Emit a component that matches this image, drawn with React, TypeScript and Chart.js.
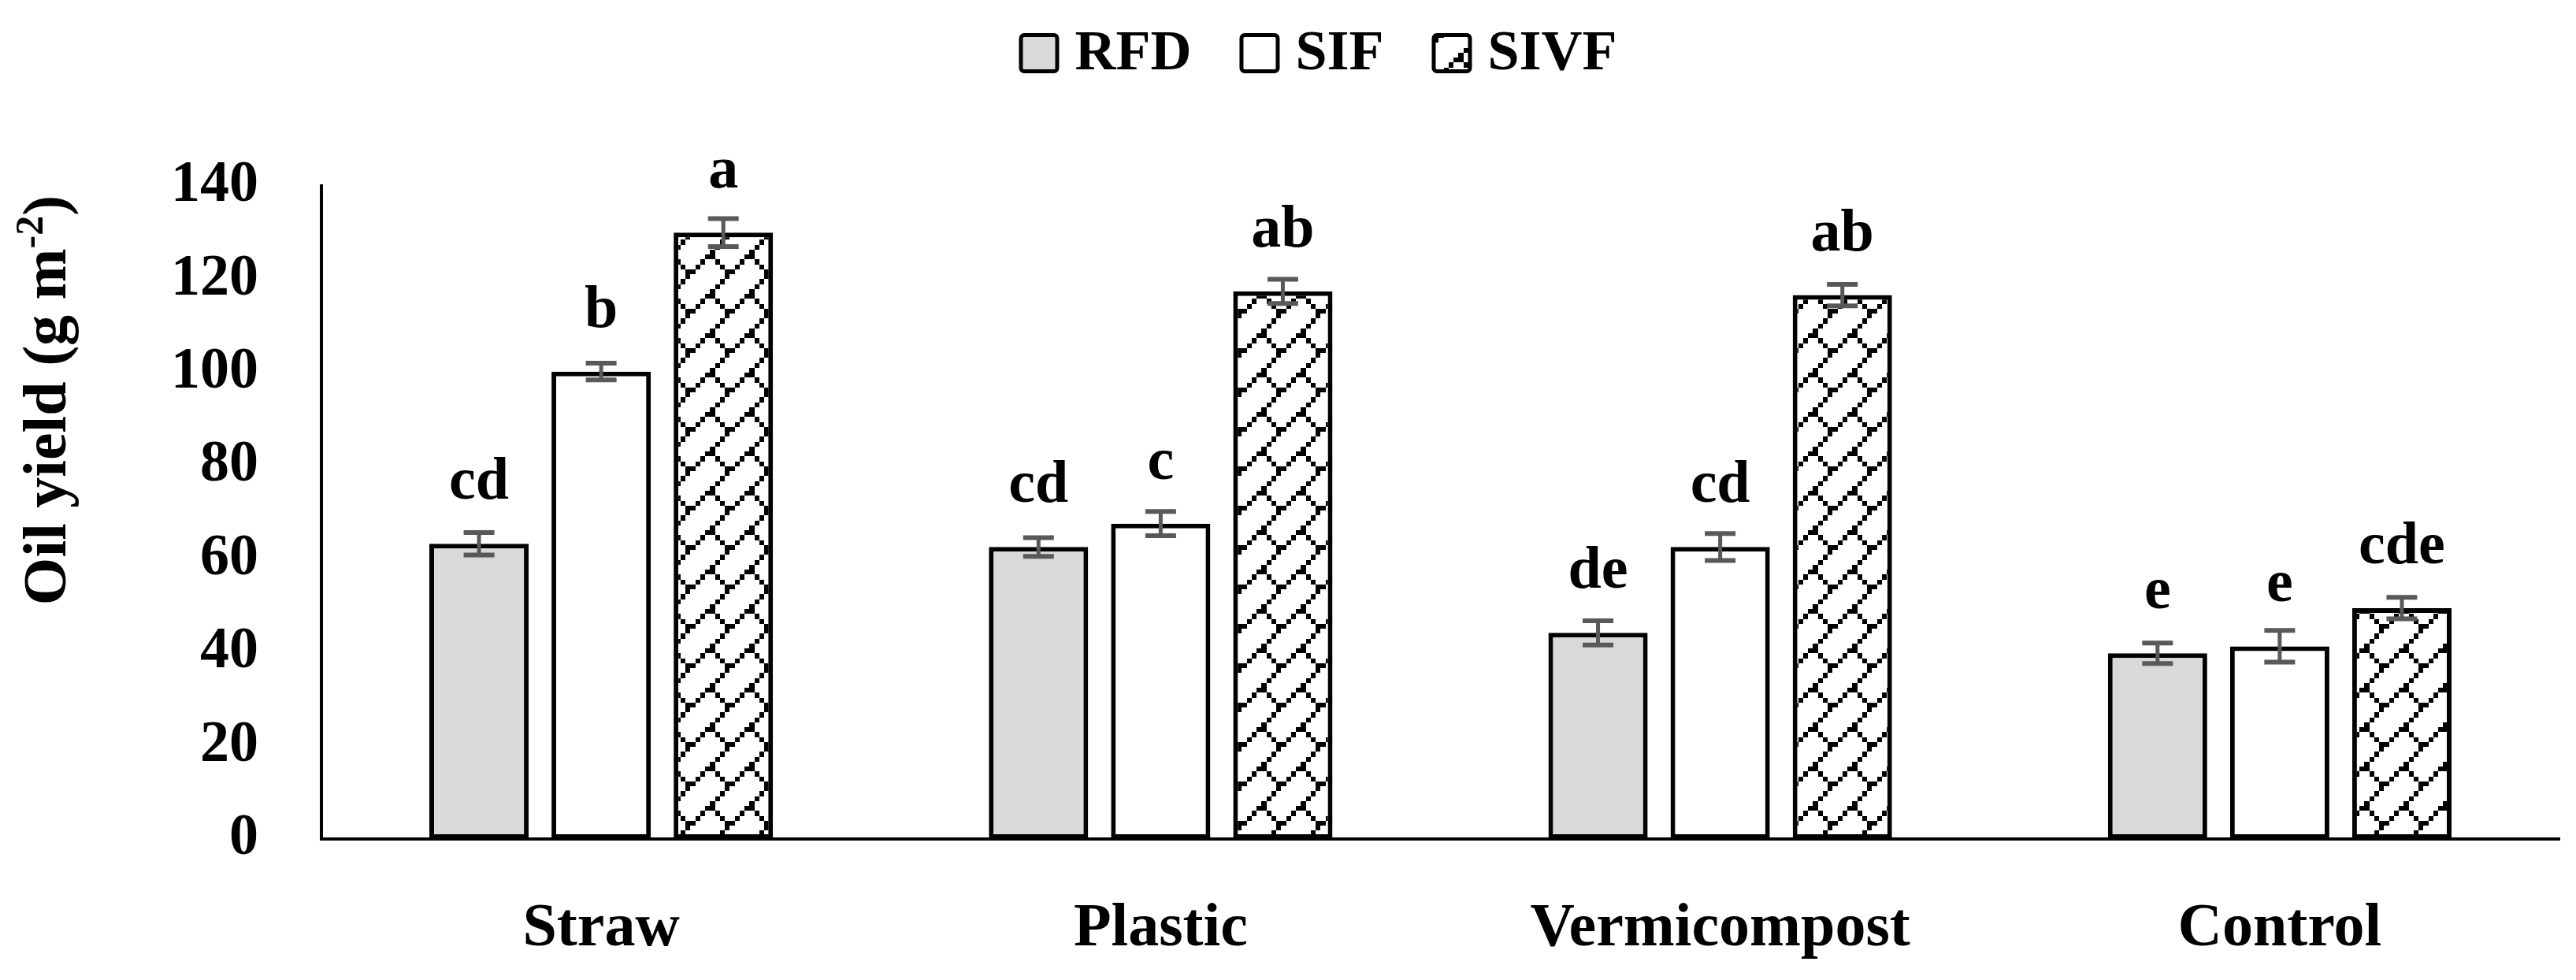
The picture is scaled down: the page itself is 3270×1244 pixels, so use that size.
import React, { useEffect, useRef } from "react";
import { Chart, registerables } from "chart.js";

Chart.register(...registerables);

// ---- data ----
const categories = ["Straw", "Plastic", "Vermicompost", "Control"];
const seriesNames = ["RFD", "SIF", "SIVF"];
const rfdValues = [63.3, 62.6, 44.2, 39.8];
const sifValues = [100.2, 67.6, 62.6, 41.3];
const sivfValues = [130.0, 117.4, 116.6, 49.5];
const rfdErrors = [2.4, 2.0, 2.6, 2.2];
const sifErrors = [1.8, 2.6, 2.9, 3.4];
const sivfErrors = [3.0, 2.6, 2.3, 2.3];
const rfdLetters = ["cd", "cd", "de", "e"];
const sifLetters = ["b", "c", "cd", "e"];
const sivfLetters = ["a", "ab", "ab", "cde"];
const yMin = 0;
const yMax = 140;
const yStep = 20;
const yTitleMain = "Oil yield (g m";
const yTitleSup = "-2";
const yTitleEnd = ")";

const FONT = '"Liberation Serif", "Times New Roman", serif';

// shingle hatch (8x8 bitmap)
const shingleRows = [
  "10000000",
  "00000001",
  "00000010",
  "00000100",
  "00001100",
  "00010010",
  "00100001",
  "11000000",
];

function makeShinglePattern(ctx: CanvasRenderingContext2D): CanvasPattern | string {
  const tile = 50;
  const cell = tile / 8;
  const c = document.createElement("canvas");
  c.width = tile;
  c.height = tile;
  const g = c.getContext("2d");
  if (!g) return "#ffffff";
  g.fillStyle = "#ffffff";
  g.fillRect(0, 0, tile, tile);
  g.fillStyle = "#000000";
  shingleRows.forEach((row, r) => {
    for (let col = 0; col < 8; col++) {
      if (row[col] === "1") {
        const x0 = Math.round(col * cell);
        const x1 = Math.round((col + 1) * cell);
        const y0 = Math.round(r * cell);
        const y1 = Math.round((r + 1) * cell);
        g.fillRect(x0, y0, x1 - x0, y1 - y0);
      }
    }
  });
  const p = ctx.createPattern(c, "repeat");
  if (!p) return "#ffffff";
  try {
    p.setTransform(new DOMMatrix().translate(20, 48));
  } catch (e) {}
  return p;
}

const errorsBySeries = [rfdErrors, sifErrors, sivfErrors];
const lettersBySeries = [rfdLetters, sifLetters, sivfLetters];

const errorBarPlugin = {
  id: "errorBars",
  afterDatasetsDraw(chart: any) {
    const ctx = chart.ctx;
    const yScale = chart.scales.y;
    ctx.save();
    ctx.strokeStyle = "#595959";
    chart.data.datasets.forEach((ds: any, i: number) => {
      const meta = chart.getDatasetMeta(i);
      const errs = errorsBySeries[i];
      meta.data.forEach((bar: any, j: number) => {
        const v = ds.data[j];
        const e = errs[j];
        const yT = yScale.getPixelForValue(v + e);
        const yB = yScale.getPixelForValue(v - e);
        const x = bar.x;
        ctx.lineWidth = 5;
        ctx.beginPath();
        ctx.moveTo(x, yT);
        ctx.lineTo(x, yB);
        ctx.stroke();
        ctx.lineWidth = 6;
        ctx.beginPath();
        ctx.moveTo(x - 19.5, yT);
        ctx.lineTo(x + 19.5, yT);
        ctx.moveTo(x - 19.5, yB);
        ctx.lineTo(x + 19.5, yB);
        ctx.stroke();
      });
    });
    ctx.restore();
  },
};

const letterPlugin = {
  id: "sigLetters",
  afterDatasetsDraw(chart: any) {
    const ctx = chart.ctx;
    ctx.save();
    ctx.fillStyle = "#000000";
    ctx.font = `bold 76px ${FONT}`;
    ctx.textAlign = "center";
    ctx.textBaseline = "alphabetic";
    chart.data.datasets.forEach((ds: any, i: number) => {
      const meta = chart.getDatasetMeta(i);
      const letters = lettersBySeries[i];
      meta.data.forEach((bar: any, j: number) => {
        ctx.fillText(letters[j], bar.x, bar.y - 57);
      });
    });
    ctx.restore();
  },
};

const legendPlugin = {
  id: "customLegend",
  afterDraw(chart: any) {
    const ctx = chart.ctx;
    const box = 46;
    const lw = 5;
    const gapText = 20;
    const gapItem = 61;
    const fontSize = 72;
    ctx.save();
    ctx.font = `bold ${fontSize}px ${FONT}`;
    const items = chart.data.datasets.map((ds: any) => ({
      text: ds.label,
      fill: ds.backgroundColor,
      w: ctx.measureText(ds.label).width,
    }));
    const outer = box + lw;
    let total = 0;
    items.forEach((it: any, i: number) => {
      total += outer + gapText + it.w + (i < items.length - 1 ? gapItem : 0);
    });
    const centerX = chart.width / 2 + 38;
    let x = centerX - total / 2;
    const boxTop = 44.5;
    const baseline = 88;
    items.forEach((it: any) => {
      const bx = x + lw / 2;
      ctx.beginPath();
      if ((ctx as any).roundRect) (ctx as any).roundRect(bx, boxTop, box, box, 4);
      else ctx.rect(bx, boxTop, box, box);
      ctx.fillStyle = it.fill;
      ctx.fill();
      ctx.lineWidth = lw;
      ctx.strokeStyle = "#000000";
      ctx.stroke();
      x += outer + gapText;
      ctx.fillStyle = "#000000";
      ctx.textAlign = "left";
      ctx.textBaseline = "alphabetic";
      ctx.fillText(it.text, x, baseline);
      x += it.w + gapItem;
    });
    ctx.restore();
  },
};

const yTitlePlugin = {
  id: "yTitleSup",
  afterDraw(chart: any) {
    const ctx = chart.ctx;
    const area = chart.chartArea;
    const cx = 63;
    const cy = area.top + 272;
    const mainFont = `bold 78px ${FONT}`;
    const supFont = `bold 50px ${FONT}`;
    ctx.save();
    ctx.fillStyle = "#000000";
    ctx.textBaseline = "middle";
    ctx.textAlign = "left";
    ctx.font = mainFont;
    const w1 = ctx.measureText(yTitleMain).width;
    const w3 = ctx.measureText(yTitleEnd).width;
    ctx.font = supFont;
    const w2 = ctx.measureText(yTitleSup).width;
    const total = w1 + w2 + w3;
    ctx.translate(cx, cy);
    ctx.rotate(-Math.PI / 2);
    let x = -total / 2;
    ctx.font = mainFont;
    ctx.fillText(yTitleMain, x, 0);
    x += w1;
    ctx.font = supFont;
    ctx.fillText(yTitleSup, x, -22);
    x += w2;
    ctx.font = mainFont;
    ctx.fillText(yTitleEnd, x, 0);
    ctx.restore();
  },
};

export default function App() {
  const canvasRef = useRef<HTMLCanvasElement | null>(null);

  useEffect(() => {
    document.body.style.margin = "0";
    const canvas = canvasRef.current;
    if (!canvas) return;
    const ctx = canvas.getContext("2d");
    if (!ctx) return;
    const pattern = makeShinglePattern(ctx);
    const fills = ["#D9D9D9", "#FFFFFF", pattern];
    const values = [rfdValues, sifValues, sivfValues];

    const chart = new Chart(ctx, {
      type: "bar",
      data: {
        labels: categories,
        datasets: seriesNames.map((name, i) => ({
          label: name,
          data: values[i],
          backgroundColor: fills[i] as any,
          borderColor: "#000000",
          borderWidth: 6,
          borderSkipped: false,
          categoryPercentage: 0.655,
          barPercentage: 0.813,
        })),
      },
      options: {
        responsive: false,
        animation: false,
        devicePixelRatio: 1,
        layout: { padding: { top: 0, left: 0, right: 21, bottom: 0 } },
        plugins: {
          tooltip: { enabled: false },
          legend: { display: false },
        },
        scales: {
          x: {
            type: "category",
            position: "bottom",
            grid: { display: false, drawTicks: false },
            border: { display: true, color: "#000000", width: 4 },
            ticks: {
              color: "#000000",
              font: { family: FONT, size: 78, weight: "bold" },
              padding: 68,
              maxRotation: 0,
              autoSkip: false,
            },
            afterFit: (s: any) => {
              s.height = 179;
            },
          },
          xTop: {
            type: "category",
            position: "top",
            display: true,
            grid: { display: false, drawTicks: false },
            border: { display: false },
            ticks: { display: false },
            afterFit: (s: any) => {
              s.height = 236;
            },
          },
          y: {
            type: "linear",
            min: yMin,
            max: yMax,
            grid: { display: false, drawTicks: false },
            border: { display: true, color: "#000000", width: 4 },
            ticks: {
              stepSize: yStep,
              color: "#000000",
              font: { family: FONT, size: 74, weight: "bold" },
              padding: 80,
            },
            afterFit: (s: any) => {
              s.width = 408;
            },
          },
        } as any,
      },
      plugins: [errorBarPlugin, letterPlugin, legendPlugin, yTitlePlugin],
    });

    return () => {
      chart.destroy();
    };
  }, []);

  return (
    <div style={{ width: 3270, height: 1244, background: "#ffffff" }}>
      <canvas ref={canvasRef} width={3270} height={1244} style={{ display: "block" }} />
    </div>
  );
}
